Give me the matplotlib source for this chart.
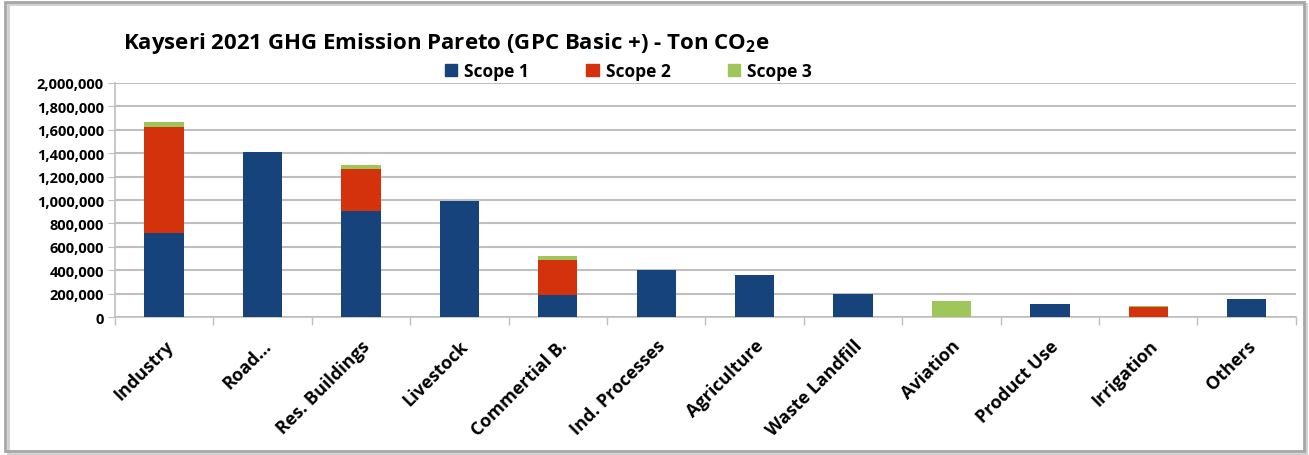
import matplotlib

matplotlib.use("Agg")
import matplotlib.pyplot as plt
from matplotlib.patches import Patch, Rectangle
from matplotlib.ticker import FuncFormatter, FixedLocator

categories = [
    "Industry", "Road...", "Res. Buildings", "Livestock", "Commertial B.",
    "Ind. Processes", "Agriculture", "Waste Landfill", "Aviation",
    "Product Use", "Irrigation", "Others",
]
scope1 = [720000, 1410000, 905000, 990000, 185000, 404000, 362000, 197000, 0, 108000, 0, 150000]
scope2 = [905000, 0, 360000, 0, 305000, 0, 0, 0, 0, 0, 88000, 5000]
scope3 = [38000, 0, 32000, 0, 28000, 0, 0, 0, 133000, 0, 2000, 0]
series_names = ["Scope 1", "Scope 2", "Scope 3"]
yticks = list(range(0, 2000001, 200000))

plt.rcParams["font.family"] = ["Open Sans", "DejaVu Sans"]
plt.rcParams["font.weight"] = "bold"
plt.rcParams["mathtext.fontset"] = "custom"
plt.rcParams["mathtext.bf"] = "Open Sans:bold"
plt.rcParams["mathtext.rm"] = "Open Sans:bold"
plt.rcParams["mathtext.default"] = "bf"

colors = ["#17437c", "#d4310d", "#9fc65a"]
grid_c = "#bfbfbf"

fig = plt.figure(figsize=(13.09, 4.56), dpi=100)
ax = fig.add_axes([0.0878, 0.3026, 0.9022, 0.5132])

x = list(range(len(categories)))
bottom2 = [a for a in scope1]
bottom3 = [a + b for a, b in zip(scope1, scope2)]
ax.bar(x, scope1, width=0.4, color=colors[0], zorder=3)
ax.bar(x, scope2, width=0.4, bottom=bottom2, color=colors[1], zorder=3)
ax.bar(x, scope3, width=0.4, bottom=bottom3, color=colors[2], zorder=3)

ax.set_xlim(-0.5, len(categories) - 0.5)
ax.set_ylim(0, 2000000)
ax.set_yticks(yticks)
ax.yaxis.set_major_formatter(FuncFormatter(lambda v, _: f"{int(v):,}"))
ax.yaxis.grid(True, color=grid_c, linewidth=1.5, zorder=0)
ax.tick_params(axis="y", length=5, color=grid_c, labelsize=10.5, pad=3)

ax.set_xticks(x)
ax.set_xticklabels(categories, rotation=45, ha="right", va="top",
                   rotation_mode="anchor", fontsize=13)
ax.tick_params(axis="x", length=0, pad=14)
ax.xaxis.set_minor_locator(FixedLocator([i - 0.5 for i in range(len(categories) + 1)]))
ax.tick_params(axis="x", which="minor", length=6, color=grid_c, width=1)

for s in ["top", "right"]:
    ax.spines[s].set_visible(False)
for s in ["left", "bottom"]:
    ax.spines[s].set_color(grid_c)
    ax.spines[s].set_linewidth(1.2)

fig.text(0.094, 0.905, r"Kayseri 2021 GHG Emission Pareto (GPC Basic +) - Ton CO$_2$e",
         fontsize=16, fontweight="bold", ha="left", va="center")

handles = [Patch(color=c) for c in colors]
fig.legend(handles, series_names, loc="center", bbox_to_anchor=(0.48, 0.842), ncol=3,
           frameon=False, fontsize=12.5, handlelength=0.7, handleheight=0.7,
           handletextpad=0.4, columnspacing=3.3)

# chart frame with a faint shadow along the bottom/right edge
fig.patches.append(Rectangle((0.006, 0.003), 0.992, 0.985, transform=fig.transFigure,
                             fill=False, edgecolor="#d0d0d0", linewidth=2))
fig.patches.append(Rectangle((0.004, 0.008), 0.992, 0.985, transform=fig.transFigure,
                             fill=False, edgecolor="#a6a6a6", linewidth=2))

fig.savefig("out.png", dpi=100)
